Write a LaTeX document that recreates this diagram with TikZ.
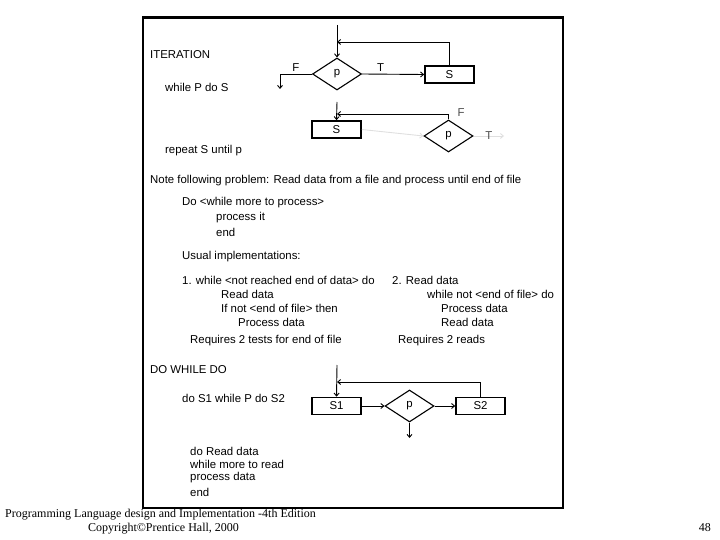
\documentclass[tikz,border=0pt]{standalone}
\usepackage{fontspec}
\setmainfont{Liberation Serif}
\newfontfamily\slidefont{Liberation Sans}
\usetikzlibrary{calc, positioning}
\usetikzlibrary{arrows.meta}
\usetikzlibrary{shapes.geometric}

\tikzset{
  slidetext/.style={font=\slidefont\fontsize{11.4}{13}\selectfont},
  txt/.style={slidetext, anchor=west, inner sep=0pt},
  lbl/.style={slidetext, inner sep=1pt},
  stmt/.style={slidetext, draw, line width=1.6pt, minimum width=49pt,
               minimum height=17pt, inner sep=0pt},
  test/.style={slidetext, draw, diamond, aspect=1.5, line width=1.1pt,
               minimum width=49pt, minimum height=32pt, inner sep=0pt,
               text height=0.9ex, text depth=0.1ex},
  flow/.style={line width=0.9pt, -{Straight Barb[length=3pt,width=5pt]}},
  faint/.style={draw=gray!25},
}

\begin{document}
\begin{tikzpicture}[x=1pt,y=-1pt]
\useasboundingbox (0,0) rectangle (720,540);
\def\lx{150}
\def\ix{182}

\draw[line width=2.6pt] (143,17.5) rectangle (563,508);

\node[txt] (iteration) at (\lx,55) {ITERATION};
\node[txt] (whiletxt) at (165,87) {while P do S};
\node[txt] (repeattxt) at (165,151) {repeat S until p};

\node[test] (testw) at (337,74) {p};
\node[stmt] (bodyw) at (449.5,74.5) {S};
\coordinate (inw) at (337,25);
\coordinate (backw) at (337,42);
\coordinate (turnw) at (280,74);
\coordinate (exitw) at (280,89);

\draw[flow] (inw) -- (testw.north);
\draw[flow] (testw.east) -- (bodyw.west) node[lbl, pos=0.3, above=1pt] {T};
\draw[flow] (bodyw.north) |- (backw);
\draw[flow] (testw.west) -- (turnw) node[lbl, midway, above=1pt] {F} -- (exitw);

\node[stmt] (bodyr) at (336.5,129.5) {S};
\node[test] (testr) at (448.5,136) {p};
\coordinate (inr) at (337,102);
\coordinate (backr) at (337,114);
\coordinate (exitr) at (504,136);

\draw[flow] (inr) -- (bodyr.north);
\draw[flow] (testr.north) |- (backr);
\node[lbl, text=black!70, above right=2pt and 8pt of testr.north] (falser) {F};
\draw[flow, faint] (bodyr.east) -- (testr.west);
\draw[flow, faint] (testr.east) -- (exitr) node[lbl, midway, text=black!70] {T};

\node[txt] (note) at (\lx,181) {Note following problem: Read data from a file and process until end of file};
\node[txt] (dowhile) at (\ix,203) {Do <while more to process>};
\node[txt] (procit) at (216,218) {process it};
\node[txt] (endit) at (216,232) {end};
\node[txt] (usual) at (\ix,257) {Usual implementations:};

\node[txt] (impla) at (\ix,280) {1. while <not reached end of data> do};
\node[txt] (implaa) at (221,294) {Read data};
\node[txt] (implab) at (221,308) {If not <end of file> then};
\node[txt] (implac) at (238,322) {Process data};
\node[txt] (reqa) at (190,341) {Requires 2 tests for end of file};

\node[txt] (implb) at (392,280) {2. Read data};
\node[txt] (implba) at (427,294) {while not <end of file> do};
\node[txt] (implbb) at (441,308) {Process data};
\node[txt] (implbc) at (441,322) {Read data};
\node[txt] (reqb) at (398,341) {Requires 2 reads};

\node[txt] (dowhiledo) at (\lx,370) {DO WHILE DO};
\node[txt] (dwtxt) at (\ix,398) {do S1 while P do S2};

\node[stmt] (firstd) at (336.5,406) {S1};
\node[test] (testd) at (409.5,406) {p};
\node[stmt] (secondd) at (480.5,406) {S2};
\coordinate (ind) at (337,365);
\coordinate (backd) at (337,382);
\coordinate (exitd) at (409.5,438);

\draw[flow] (ind) -- (firstd.north);
\draw[flow] (firstd.east) -- (testd.west);
\draw[flow] (testd.east) -- (secondd.west);
\draw[flow] (secondd.north) |- (backd);
\draw[flow] (testd.south) -- (exitd);

\node[txt] (exa) at (190,451) {do Read data};
\node[txt] (exb) at (190,464) {while more to read};
\node[txt] (exc) at (190,478) {process data};
\node[txt] (exd) at (190,492) {end};

\node[anchor=west, inner sep=0pt, font=\fontsize{12}{14}\selectfont] (book) at (5,515)
  {Programming Language design and Implementation -4th Edition};
\node[anchor=west, inner sep=0pt, font=\fontsize{12}{14}\selectfont] (copy) at (88,529)
  {Copyright©Prentice Hall, 2000};
\node[anchor=east, inner sep=0pt, font=\fontsize{12}{14}\selectfont] (page) at (711,528) {48};
\end{tikzpicture}
\end{document}
